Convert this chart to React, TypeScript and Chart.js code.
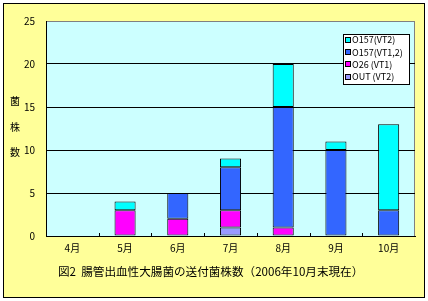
import React, { useEffect, useRef } from "react";
import { Chart, registerables } from "chart.js";

Chart.register(...registerables);

const categories = ["4月", "5月", "6月", "7月", "8月", "9月", "10月"];
const seriesLabels = ["OUT (VT2)", "O26 (VT1)", "O157(VT1,2)", "O157(VT2)"];
const outVT2 = [null, null, null, 1, null, null, null];
const o26VT1 = [null, 3, 2, 2, 1, null, null];
const o157VT12 = [null, null, 3, 5, 14, 10, 3];
const o157VT2 = [null, 1, null, 1, 5, 1, 10];
const seriesColors = ["#9999FF", "#FF00FF", "#3366FF", "#00FFFF"];
const yMax = 25;
const yStep = 5;
const yTitleChars = ["菌", "株", "数"];
const chartTitle = "図2  腸管出血性大腸菌の送付菌株数（2006年10月末現在）";

const FONT = "'Noto Sans CJK JP', 'Noto Sans', sans-serif";

const decorPlugin = {
  id: "decor",
  beforeDraw(chart: any) {
    const { ctx, chartArea } = chart;
    ctx.save();
    ctx.fillStyle = "#FFFFFF";
    ctx.fillRect(0, 0, chart.width, chart.height);
    ctx.fillStyle = "#FFFF99";
    ctx.fillRect(3.5, 3.5, 421, 294);
    ctx.strokeStyle = "#000000";
    ctx.lineWidth = 1;
    ctx.strokeRect(3.5, 3.5, 421, 294);
    ctx.fillStyle = "#CCFFFF";
    ctx.fillRect(chartArea.left, chartArea.top, chartArea.right - chartArea.left, chartArea.bottom - chartArea.top);
    ctx.strokeStyle = "#808080";
    ctx.strokeRect(chartArea.left + 0.5, chartArea.top + 0.5, chartArea.right - chartArea.left - 1, chartArea.bottom - chartArea.top);
    ctx.restore();
  },
  afterDraw(chart: any) {
    const { ctx, chartArea } = chart;
    const xScale = chart.scales.x;
    ctx.save();
    // tick marks on x axis (between categories)
    ctx.strokeStyle = "#000000";
    ctx.lineWidth = 1;
    const n = categories.length;
    for (let i = 1; i < n; i++) {
      const x = Math.round((xScale.getPixelForValue(i - 1) + xScale.getPixelForValue(i)) / 2) + 0.5;
      ctx.beginPath();
      ctx.moveTo(x, chartArea.bottom);
      ctx.lineTo(x, chartArea.bottom - 3);
      ctx.stroke();
    }
    // y title
    ctx.fillStyle = "#000000";
    ctx.font = `10px ${FONT}`;
    ctx.textAlign = "center";
    ctx.textBaseline = "middle";
    const ys = [101, 127, 152];
    yTitleChars.forEach((c, i) => ctx.fillText(c, 15, ys[i]));
    // chart title
    ctx.font = `11.6px ${FONT}`;
    ctx.textAlign = "left";
    ctx.fillText(chartTitle, 58, 272);
    // legend
    const lx = 343.5, ly = 34.5, lw = 66, lh = 50;
    ctx.fillStyle = "#FFFFFF";
    ctx.fillRect(lx, ly, lw, lh);
    ctx.strokeStyle = "#000000";
    ctx.strokeRect(lx, ly, lw, lh);
    const ds = chart.data.datasets.slice().reverse();
    ctx.font = `9px ${FONT}`;
    ds.forEach((d: any, i: number) => {
      const cy = 40 + i * 12.2;
      ctx.fillStyle = d.backgroundColor;
      ctx.fillRect(345.5, Math.round(cy) - 3 + 0.5, 5, 5);
      ctx.strokeStyle = "#000000";
      ctx.strokeRect(345.5, Math.round(cy) - 3 + 0.5, 5, 5);
      ctx.fillStyle = "#000000";
      ctx.textAlign = "left";
      ctx.textBaseline = "middle";
      ctx.fillText(d.label, 352, cy);
    });
    ctx.restore();
  },
};

export default function App() {
  const ref = useRef<HTMLCanvasElement | null>(null);
  useEffect(() => {
    if (!ref.current) return;
    const seriesData = [outVT2, o26VT1, o157VT12, o157VT2];
    const chart = new Chart(ref.current, {
      type: "bar",
      data: {
        labels: categories,
        datasets: seriesData.map((d, i) => ({
          label: seriesLabels[i],
          data: d as any,
          backgroundColor: seriesColors[i],
          borderColor: "#000000",
          borderWidth: 1,
          borderSkipped: false,
          barPercentage: 0.4,
          categoryPercentage: 1,
        })),
      },
      options: {
        responsive: false,
        animation: false,
        devicePixelRatio: 1,
        layout: { padding: { left: 0, top: 21, right: 13, bottom: 45 } },
        plugins: {
          legend: { display: false },
          title: { display: false },
          tooltip: { enabled: false },
        },
        scales: {
          x: {
            stacked: true,
            grid: { display: false, drawTicks: false },
            border: { color: "#000000", width: 1 },
            ticks: { color: "#000000", font: { family: FONT, size: 10 }, padding: 6 },
            afterFit(scale: any) {
              scale.height = 20;
            },
          },
          y: {
            stacked: true,
            min: 0,
            max: yMax,
            grid: {
              drawTicks: false,
              color: (c: any) => (c.tick && c.tick.value === yMax ? "#808080" : "#000000"),
            },
            border: { color: "#000000", width: 1 },
            ticks: { stepSize: yStep, color: "#000000", font: { family: FONT, size: 10 }, padding: 11 },
            afterFit(scale: any) {
              scale.width = 46;
            },
          },
        },
      },
      plugins: [decorPlugin],
    });
    return () => chart.destroy();
  }, []);
  return (
    <div style={{ position: "absolute", left: 0, top: 0, width: 428, height: 301 }}>
      <canvas ref={ref} width={428} height={301} />
    </div>
  );
}
